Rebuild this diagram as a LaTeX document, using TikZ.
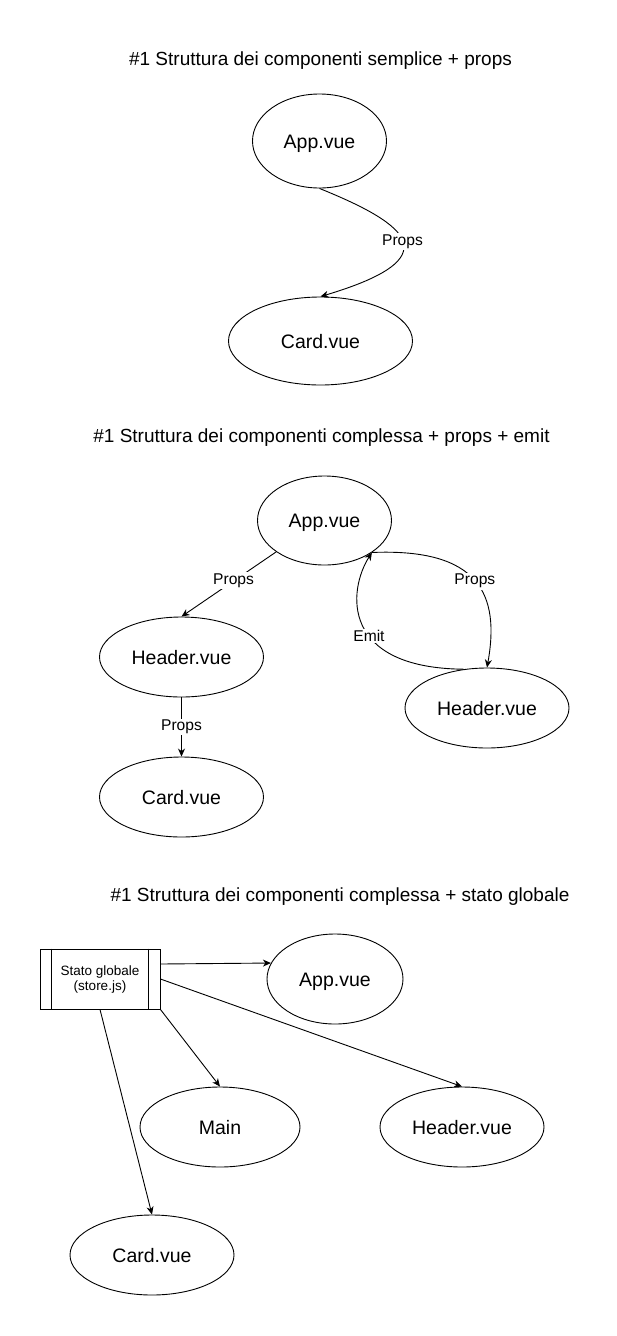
\documentclass[tikz,border=0pt]{standalone}
\usepackage{fontspec}
\setmainfont{Liberation Sans}
\usetikzlibrary{arrows.meta,shapes.geometric}
\begin{document}
\begin{tikzpicture}[x=1pt,y=-1pt,
  comp/.style={draw, ellipse, line width=0.9pt, inner sep=0pt, text height=14pt, text depth=0pt, font=\fontsize{19.5}{23}\selectfont},
  ttl/.style={inner sep=0pt, font=\fontsize{19}{23}\selectfont},
  lbl/.style={fill=white, inner sep=1.5pt, font=\fontsize{15.6}{18}\selectfont},
  conn/.style={line width=0.9pt, -{Stealth[length=8pt,width=7pt,inset=2.5pt]}},
  procbox/.style={draw, line width=0.9pt, inner sep=0pt, align=center, font=\fontsize{13.5}{15}\selectfont}
]
\fill[white] (0,0) rectangle (616,1336);
\useasboundingbox (0,0) rectangle (616,1336);

% Section 1
\node[ttl] (t1) at (320.5,61) {\#1 Struttura dei componenti semplice + props};
\node[comp, minimum width=134pt, minimum height=94pt] (app1) at (319.5,141) {App.vue};
\node[comp, minimum width=184pt, minimum height=88pt] (card1) at (320.5,341) {Card.vue};
\draw[conn] (app1.south) .. controls (410,225) and (450,258) .. node[lbl] {Props} (card1.north);

% Section 2
\node[ttl] (t2) at (321.5,438) {\#1 Struttura dei componenti complessa + props + emit};
\node[comp, minimum width=134pt, minimum height=89pt] (app2) at (324.5,520.5) {App.vue};
\node[comp, minimum width=164pt, minimum height=80pt] (hdrL) at (181.5,657) {Header.vue};
\node[comp, minimum width=164pt, minimum height=80pt] (card2) at (181.5,797) {Card.vue};
\node[comp, minimum width=164pt, minimum height=80pt] (hdrR) at (487,708) {Header.vue};
\draw[conn] (app2.213) -- node[lbl, pos=0.45] {Props} (hdrL.north);
\draw[conn] (hdrL.south) -- node[lbl] {Props} (card2.north);
\draw[conn] (app2.-34) .. controls (480,548) and (500,595) .. node[lbl] {Props} (hdrR.north);
\draw[conn] (hdrR.121.6) .. controls (340,668) and (348,590) .. node[lbl, pos=0.42] {Emit} (app2.-34);

% Section 3
\node[ttl] (t3) at (340,897) {\#1 Struttura dei componenti complessa + stato globale};
\node[procbox, minimum width=120pt, minimum height=60pt] (store) at (100,979) {Stato globale\\(store.js)};
\draw[line width=0.9pt] ([xshift=12pt]store.north west) -- ([xshift=12pt]store.south west);
\draw[line width=0.9pt] ([xshift=-12pt]store.north east) -- ([xshift=-12pt]store.south east);
\node[comp, minimum width=136pt, minimum height=90pt] (app3) at (335,979) {App.vue};
\node[comp, minimum width=164pt, minimum height=80pt] (hdr3) at (462,1127) {Header.vue};
\node[comp, minimum width=160pt, minimum height=80pt] (main3) at (220,1127) {Main};
\node[comp, minimum width=164pt, minimum height=80pt] (card3) at (152,1255) {Card.vue};
\draw[conn] ([yshift=15pt]store.east) -- (app3.166.8);
\draw[conn] (store.east) -- (hdr3.north);
\draw[conn] (store.south east) -- (main3.north);
\draw[conn] (store.south) -- (card3.north);
\end{tikzpicture}
\end{document}
